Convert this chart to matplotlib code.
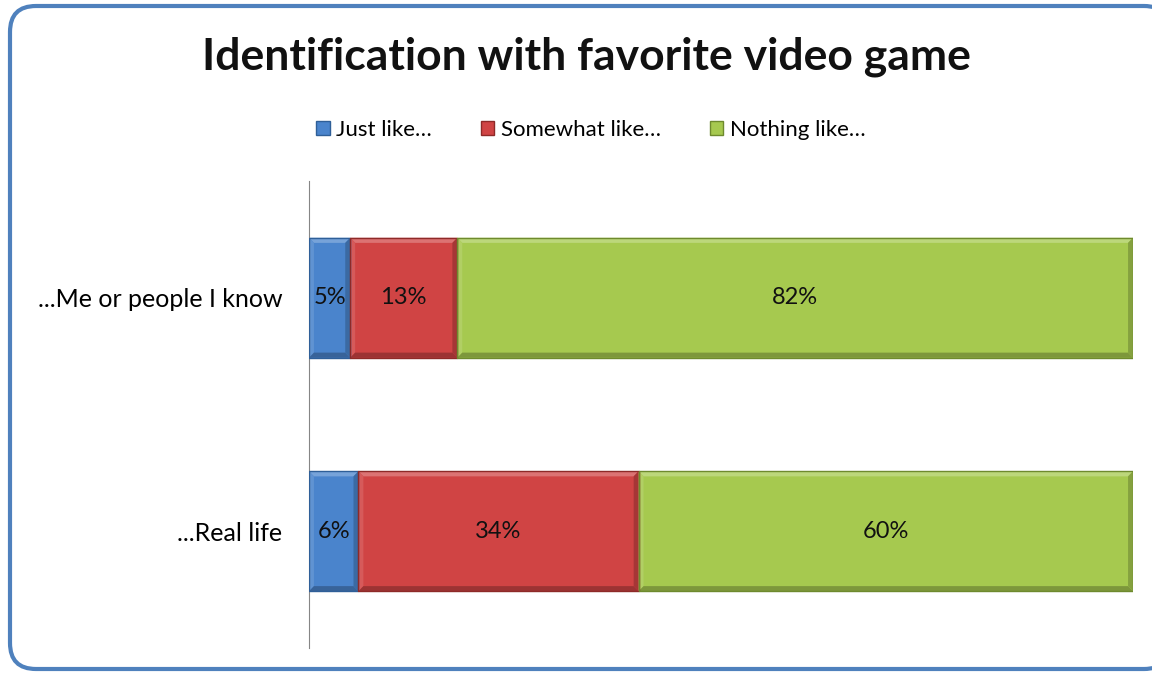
import matplotlib.pyplot as plt
from matplotlib.colors import to_rgb
from matplotlib.patches import FancyBboxPatch, Polygon

plt.rcParams["font.family"] = ["Lato", "DejaVu Sans"]

categories = ["...Real life", "...Me or people I know"]
series_names = ["Just like…", "Somewhat like…", "Nothing like…"]
just_like = [6, 5]
somewhat_like = [34, 13]
nothing_like = [60, 82]
series_values = [just_like, somewhat_like, nothing_like]
colors = ["#4A84CC", "#D04444", "#A6C94F"]
edge_colors = ["#2F5F98", "#8E2A28", "#6E8A2E"]


def shade(color, f):
    r, g, b = to_rgb(color)
    if f >= 0:
        return (r + (1 - r) * f, g + (1 - g) * f, b + (1 - b) * f)
    return (r * (1 + f), g * (1 + f), b * (1 + f))


def add_bevel(ax, bar, color, dx=0.6, dy=0.022):
    # light top/left and dark bottom/right facets
    x0, y0 = bar.get_x(), bar.get_y()
    x1, y1 = x0 + bar.get_width(), y0 + bar.get_height()
    facets = [
        ([(x0, y1), (x1, y1), (x1 - dx, y1 - dy), (x0 + dx, y1 - dy)], shade(color, 0.25)),
        ([(x0, y0), (x0, y1), (x0 + dx, y1 - dy), (x0 + dx, y0 + dy)], shade(color, 0.12)),
        ([(x0, y0), (x1, y0), (x1 - dx, y0 + dy), (x0 + dx, y0 + dy)], shade(color, -0.25)),
        ([(x1, y0), (x1, y1), (x1 - dx, y1 - dy), (x1 - dx, y0 + dy)], shade(color, -0.2)),
    ]
    for pts, c in facets:
        ax.add_patch(Polygon(pts, closed=True, facecolor=c, edgecolor="none", zorder=2))


fig = plt.figure(figsize=(11.52, 6.73), dpi=100)

# background layer in pixel units for the rounded chart border
bg = fig.add_axes([0, 0, 1, 1], zorder=-1)
bg.set_xlim(0, 1152)
bg.set_ylim(673, 0)
bg.axis("off")
bg.add_patch(FancyBboxPatch((10, 6), 1160, 663, boxstyle="round,pad=0,rounding_size=26",
                            facecolor="white", edgecolor="#4F81BD", linewidth=3))

ax = fig.add_axes([309 / 1152, 1 - 648 / 673, (1133 - 309) / 1152, (648 - 181) / 673])
ax.set_facecolor("none")

left = [0, 0]
for name, vals, col, ec in zip(series_names, series_values, colors, edge_colors):
    bars = ax.barh(categories, vals, left=left, height=0.514, color=col,
                   edgecolor="none", label=name, zorder=1)
    for b, v in zip(bars, vals):
        add_bevel(ax, b, col)
        ax.add_patch(plt.Rectangle((b.get_x(), b.get_y()), b.get_width(), b.get_height(),
                                   facecolor="none", edgecolor=ec, linewidth=1.0, zorder=3))
        ax.text(b.get_x() + b.get_width() / 2, b.get_y() + b.get_height() / 2,
                f"{v}%", ha="center", va="center", fontsize=17, color="#111111", zorder=4)
    left = [l + v for l, v in zip(left, vals)]

ax.set_xlim(0, 100)
ax.set_ylim(-0.5, 1.5)
for side in ["top", "right", "bottom"]:
    ax.spines[side].set_visible(False)
ax.spines["left"].set_color("#868686")
ax.set_xticks([])
ax.tick_params(axis="y", length=0, labelsize=18, pad=19)

fig.text(586 / 1152, 1 - 57 / 673, "Identification with favorite video game",
         ha="center", va="center", fontsize=32, fontweight="bold", color="#111111")

handles, labels = ax.get_legend_handles_labels()
leg = fig.legend(handles, labels, loc="center", bbox_to_anchor=(591 / 1152, 1 - 130 / 673),
                 ncol=3, frameon=False, fontsize=16, handlelength=0.6, handleheight=0.6,
                 handletextpad=0.3, columnspacing=2.2)
for patch, ec in zip(leg.get_patches(), edge_colors):
    patch.set_edgecolor(ec)
    patch.set_linewidth(1.0)

fig.savefig("out.png", dpi=100)
